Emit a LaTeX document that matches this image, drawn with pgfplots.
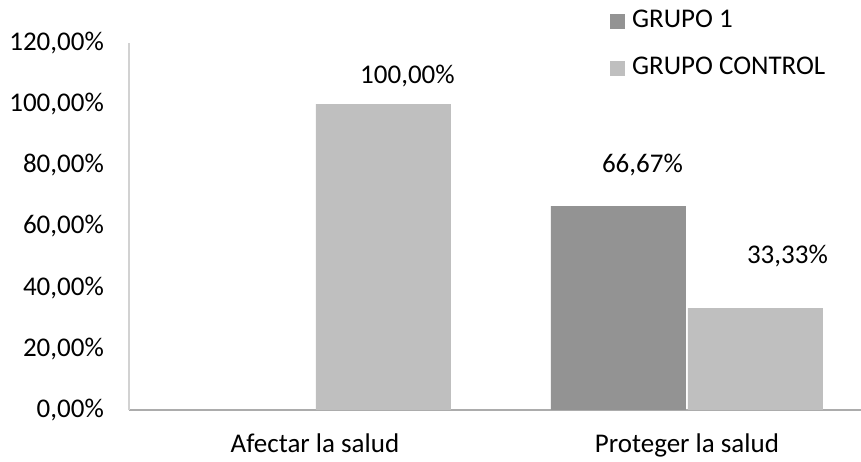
\documentclass[border=0pt]{standalone}
\usepackage{pgfplots}
\pgfplotsset{compat=1.18}
\usepackage{pgfplotstable}
\usepackage{fontspec}
\setmainfont{Carlito}
\definecolor{gA}{HTML}{939393}
\definecolor{gB}{HTML}{BFBFBF}
\pgfplotstableread{
x y lbl dx dy
0 0 {} 0 0
1 66.67 {66,67\%} 24 34
}\grupoA
\pgfplotstableread{
x y lbl dx dy
0 100 {100,00\%} 24 21
1 33.33 {33,33\%} 32 45
}\grupoB
\newcommand\fs{\fontsize{27bp}{32bp}\selectfont}
\begin{document}
\begin{tikzpicture}
\begin{axis}[
  at={(0,0)}, anchor=south west,
  scale only axis, width=732bp, height=367bp,
  xmin=-0.5, xmax=1.468, ymin=0, ymax=120,
  ybar, bar width=135bp, bar shift auto,
  ytick={0,20,...,120},
  yticklabel={\pgfmathprintnumber[fixed,fixed zerofill,precision=2,use comma]{\tick}\%},
  /pgf/number format/assume math mode=true,
  xtick={0,1}, xticklabels={Afectar la salud,Proteger la salud},
  major tick length=0,
  axis x line*=bottom, axis y line*=left,
  x axis line style={draw=gray!65, line width=1.5pt, -},
  y axis line style={draw=gray!35, line width=1.2pt, -},
  xticklabel style={anchor=base, inner sep=0pt, yshift=-42bp, font=\fs},
  yticklabel style={anchor=east, inner sep=0pt, xshift=-25bp, font=\fs},
  legend style={at={(0.657,1.092)}, anchor=north west, draw=none, fill=none,
    font=\fs, row sep=27bp, inner sep=0pt,
    nodes={inner sep=0pt, text height=18bp, text depth=0bp},
    legend cell align=left},
  legend image code/.code={\fill[#1] (0bp,-11bp) rectangle (15bp,4bp); \path (22bp,0bp);},
  point meta=explicit symbolic,
  nodes near coords,
  visualization depends on={\thisrow{dx} \as \dxv},
  visualization depends on={\thisrow{dy} \as \dyv},
  every node near coord/.append style={font=\fs, black, inner sep=0pt,
     anchor=base, xshift=\dxv bp, yshift=\dyv bp},
]
\addplot[fill=gA, draw=none] table[x=x, y=y, meta=lbl] {\grupoA};
\addlegendentry{GRUPO 1}
\addplot[fill=gB, draw=none] table[x=x, y=y, meta=lbl] {\grupoB};
\addlegendentry{GRUPO CONTROL}
\end{axis}
\pgfresetboundingbox
\path (-129bp,-52bp) rectangle (732bp,410bp);
\end{tikzpicture}
\end{document}
